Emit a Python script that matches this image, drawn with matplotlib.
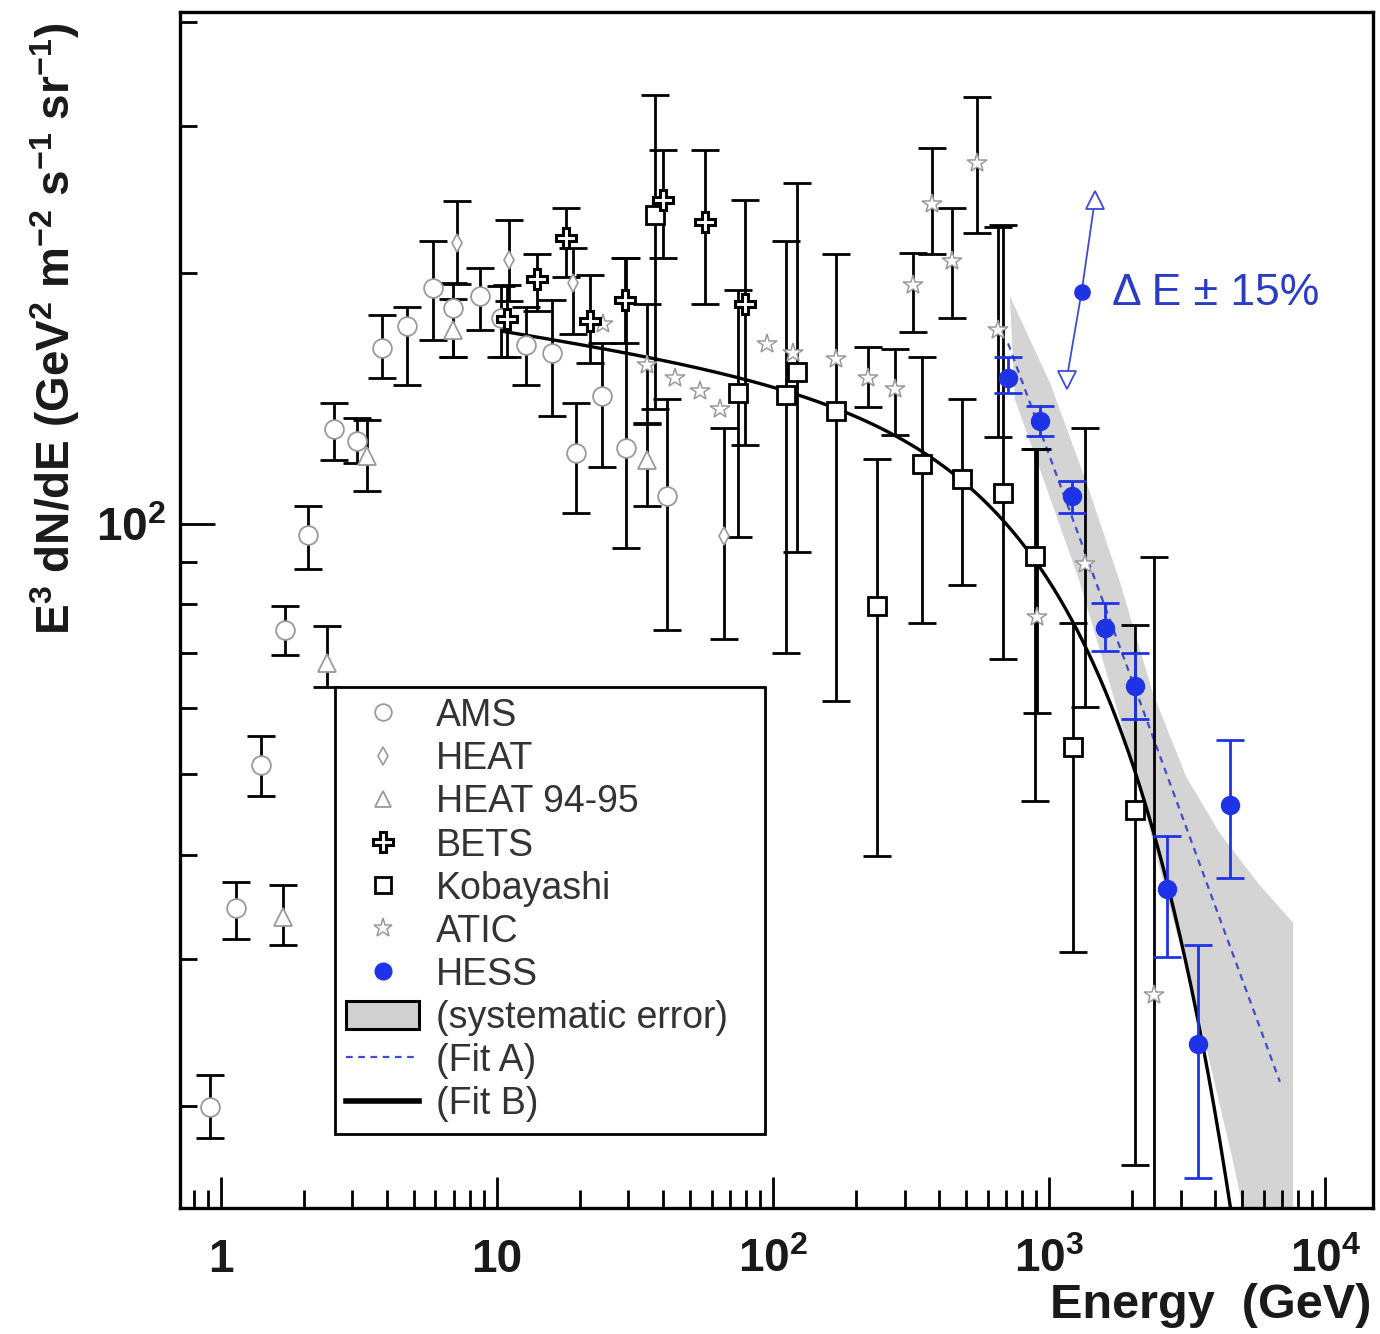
import numpy as np
import matplotlib
matplotlib.use("Agg")
import matplotlib.pyplot as plt
from matplotlib.lines import Line2D
from matplotlib.patches import Patch
from matplotlib.ticker import FixedLocator, FixedFormatter, NullFormatter

plt.rcParams['font.family'] = ['Liberation Sans', 'DejaVu Sans']
plt.rcParams['mathtext.fontset'] = 'custom'
plt.rcParams['mathtext.rm'] = 'Liberation Sans'
plt.rcParams['mathtext.it'] = 'Liberation Sans:italic'
plt.rcParams['mathtext.bf'] = 'Liberation Sans:bold'
plt.rcParams['mathtext.default'] = 'regular'

# ---------------- data: energy (GeV), E^3 dN/dE, lower and upper error ends ----------------
ams_e  = [0.916, 1.138, 1.40, 1.71, 2.08, 2.58, 3.11, 3.83, 4.72, 5.90, 6.96, 8.70, 10.4, 12.8, 15.8, 19.4, 24.0, 29.4, 41.3]
ams_v  = [19.95, 34.6, 51.3, 74.6, 97.0, 129.9, 125.5, 162.4, 172.5, 191.7, 181.4, 187.5, 176.5, 163.9, 160.2, 121.6, 142.1, 123.2, 107.8]
ams_lo = [18.3, 31.7, 47.1, 69.6, 88.1, 119.3, 118.2, 149.6, 146.8, 166.0, 158.6, 170.8, 158.6, 146.7, 134.5, 103.0, 117.0, 93.5, 74.6]
ams_hi = [21.8, 37.2, 55.6, 79.6, 104.9, 139.5, 133.9, 178.0, 182.0, 218.0, 194.4, 202.4, 192.6, 182.0, 185.5, 139.5, 164.8, 208.0, 140.9]

heat_e  = [7.2, 11.1, 18.95, 66.5]
heat_v  = [216.8, 207.0, 194.4, 96.6]
heat_lo = [194.0, 185.0, 168.9, 72.6]
heat_hi = [243.6, 231.5, 214.0, 130.2]

heat95_e  = [1.68, 2.42, 3.40, 6.96, 34.9]
heat95_v  = [33.7, 68.1, 120.4, 170.8, 119.3]
heat95_lo = [31.2, 63.7, 109.3, 158.6, 104.9]
heat95_hi = [36.8, 75.3, 133.2, 186.0, 132.0]

bets_e  = [10.9, 13.99, 17.8, 21.8, 29.1, 40.1, 56.8, 79.3]
bets_v  = [176.0, 196.7, 219.8, 175.0, 185.6, 244.2, 229.8, 183.5]
bets_lo = [158.6, 179.9, 197.7, 155.9, 164.8, 208.3, 183.5, 124.2]
bets_hi = [193.4, 210.5, 239.0, 198.6, 208.0, 280.3, 280.3, 244.2]

koba_e  = [37.4, 75.0, 112.0, 122.0, 170.0, 237.6, 345.6, 482.6, 682.6, 889.0, 1218.0, 2047.0]
koba_v  = [234.2, 143.3, 142.8, 151.8, 136.6, 79.7, 117.9, 113.0, 108.9, 91.5, 53.9, 45.3]
koba_lo = [137.4, 96.4, 69.9, 92.4, 61.2, 39.9, 76.0, 84.5, 68.8, 46.5, 30.6, 17.0]
koba_hi = [326.8, 190.6, 218.0, 256.3, 210.6, 119.4, 158.5, 141.1, 228.3, 123.0, 76.0, 75.5]

atic_e  = [24.3, 34.9, 44.2, 54.5, 64.4, 95.0, 118.6, 170.0, 221.6, 276.7, 322.0, 375.7, 443.7, 547.0, 654.7, 902.0, 1349.0, 2398.0]
atic_v  = [173.3, 155.1, 149.4, 144.1, 137.4, 164.4, 160.0, 157.6, 149.5, 144.9, 193.5, 241.6, 206.3, 270.4, 170.6, 77.3, 89.5, 27.2]
atic_lo = [173.3, 131.6, 149.4, 144.1, 137.4, 164.4, 160.0, 157.6, 138.1, 127.6, 169.6, 210.6, 176.6, 223.0, 126.9, 59.2, 60.2, 10.0]
atic_hi = [173.3, 183.5, 149.4, 144.1, 137.4, 164.4, 160.0, 157.6, 162.7, 161.8, 211.3, 281.8, 239.3, 325.0, 227.0, 123.0, 130.2, 91.1]

hess_e  = [711.6, 927.0, 1207.0, 1593.0, 2047.0, 2667.0, 3468.0, 4519.0]
hess_v  = [149.5, 132.6, 107.8, 75.0, 63.8, 36.4, 23.76, 45.9]
hess_lo = [143.4, 127.3, 103.0, 70.3, 58.3, 30.2, 16.4, 37.6]
hess_hi = [158.6, 138.2, 112.4, 80.3, 69.9, 42.2, 31.2, 55.0]

# systematic error band of the H.E.S.S. spectrum
band_up_e = [721.5, 1007, 1368, 1808, 2378, 3148, 4157, 5803, 7657, 7657]
band_up_v = [187.5, 147.6, 112.0, 85.0, 62.6, 49.6, 42.5, 36.8, 33.2, 10.0]
band_lo_e = [5080, 5034, 4634, 3516, 2583, 2014, 1294, 1066, 874, 753]
band_lo_v = [10.0, 15.1, 17.2, 25.4, 37.3, 51.6, 85.0, 102.0, 122.7, 140.9]

# energy-scale uncertainty marker (-15%, nominal, +15%)
de_e = [1158, 1313, 1466]
de_v = [148.8, 189.8, 244.5]

# fit A: pure power law;  fit B: power law with exponential cut-off
fitA_norm, fitA_index, fitA_range = 121.0, 3.9, (711.0, 6855.0)
fitB_norm, fitB_index, fitB_cut, fitB_range = 136.1, 3.05, 2140.0, (10.5, 6000.0)

x_ticks = [1, 10, 100, 1000, 10000]
x_ticklabels = ['1', '10', r'$10^{2}$', r'$10^{3}$', r'$10^{4}$']
y_ticks = [100]
y_ticklabels = [r'$10^{2}$']

# ---------------- figure ----------------
fig = plt.figure(figsize=(13.8, 13.34), dpi=100)
ax = fig.add_axes([0.1304, 0.0945, 0.8645, 0.8966])
ax.set_xscale('log')
ax.set_yscale('log')
ax.set_xlim(0.713, 14900)
ax.set_ylim(15.1, 411)

GRAY = '#9a9a9a'
BLUE = '#1f33e6'
LINE_BLUE = '#3f4bd2'

# systematic band
ax.fill(band_up_e + band_lo_e, band_up_v + band_lo_v, color='#d4d4d4', lw=0, zorder=1)

# fits
eA = np.logspace(np.log10(fitA_range[0]), np.log10(fitA_range[1]), 200)
ax.plot(eA, fitA_norm * (eA / 1000.0) ** (3 - fitA_index), color=LINE_BLUE, lw=1.6,
        ls=(0, (3, 2.5)), zorder=2)
eB = np.logspace(np.log10(fitB_range[0]), np.log10(fitB_range[1]), 400)
ax.plot(eB, fitB_norm * (eB / 1000.0) ** (3 - fitB_index) * np.exp(-eB / fitB_cut),
        color='black', lw=2.4, zorder=2)


def series(e, v, lo, hi, ecolor, **mk):
    e, v, lo, hi = map(np.asarray, (e, v, lo, hi))
    m = hi > lo
    ax.errorbar(e[m], v[m], yerr=[v[m] - lo[m], hi[m] - v[m]], fmt='none', ecolor=ecolor,
                elinewidth=2.0, capsize=10, capthick=2.0, zorder=3)
    ax.plot(e, v, ls='none', zorder=4, **mk)


series(ams_e, ams_v, ams_lo, ams_hi, 'black',
       marker='o', ms=13.5, mfc='white', mec=GRAY, mew=1.3)
series(heat_e, heat_v, heat_lo, heat_hi, 'black',
       marker='d', ms=9, mfc='white', mec=GRAY, mew=1.2)
series(heat95_e, heat95_v, heat95_lo, heat95_hi, 'black',
       marker='^', ms=12.5, mfc='white', mec=GRAY, mew=1.3)
series(atic_e, atic_v, atic_lo, atic_hi, 'black',
       marker='*', ms=15, mfc='white', mec=GRAY, mew=1.1)
series(koba_e, koba_v, koba_lo, koba_hi, 'black',
       marker='s', ms=13.5, mfc='white', mec='black', mew=2.0)
series(bets_e, bets_v, bets_lo, bets_hi, 'black',
       marker='P', ms=15, mfc='white', mec='black', mew=2.2)
series(hess_e, hess_v, hess_lo, hess_hi, BLUE,
       marker='o', ms=13, mfc=BLUE, mec=BLUE, mew=1)

# energy-scale uncertainty indicator
ax.plot(de_e, de_v, color=LINE_BLUE, lw=1.3, zorder=5)
ax.plot(de_e[1], de_v[1], ls='none', marker='o', ms=11, color=BLUE, zorder=6)
ax.plot(de_e[2], de_v[2], ls='none', marker='^', ms=13, mfc='white', mec=LINE_BLUE, mew=1.3, zorder=6)
ax.plot(de_e[0], de_v[0], ls='none', marker='v', ms=13, mfc='white', mec=LINE_BLUE, mew=1.3, zorder=6)
ax.text(1690, 189, '\u0394 E \u00b1 15%', color='#2b3cc4', fontsize=32, ha='left', va='center', zorder=6)

# axes styling
for sp in ax.spines.values():
    sp.set_linewidth(2.4)
ax.xaxis.set_major_locator(FixedLocator(x_ticks))
ax.xaxis.set_major_formatter(FixedFormatter(x_ticklabels))
x_minor = [d * m for d in (0.1, 1, 10, 100, 1000) for m in range(2, 10)]
ax.xaxis.set_minor_locator(FixedLocator(x_minor))
ax.xaxis.set_minor_formatter(NullFormatter())
ax.yaxis.set_major_locator(FixedLocator(y_ticks))
ax.yaxis.set_major_formatter(FixedFormatter(y_ticklabels))
y_minor = [20, 30, 40, 50, 60, 70, 80, 90, 200, 300, 400]
ax.yaxis.set_minor_locator(FixedLocator(y_minor))
ax.yaxis.set_minor_formatter(NullFormatter())

ax.tick_params(axis='both', which='both', direction='in', top=False, right=False, width=2.0)
ax.tick_params(axis='x', which='major', length=22, pad=22, labelsize=33)
ax.tick_params(axis='x', which='minor', length=13)
ax.tick_params(axis='y', which='major', length=25, pad=10, labelsize=33)
ax.tick_params(axis='y', which='minor', length=12.5)
for lab in ax.get_xticklabels() + ax.get_yticklabels():
    lab.set_fontweight('bold')
    lab.set_color('#1a1a1a')

fig.text(0.9935, 0.0217, 'Energy  (GeV)', ha='right', va='center', fontsize=35,
         fontweight='bold', color='#1a1a1a')
fig.text(0.040, 0.7534,
         r'E$^{3}$ dN/dE (GeV$^{2}$ m$^{-2}$ s$^{-1}$ sr$^{-1}$)',
         rotation=90, ha='center', va='center', fontsize=33, fontweight='bold', color='#1a1a1a')

# legend
handles = [
    Line2D([], [], ls='none', marker='o', ms=12, mfc='white', mec=GRAY, mew=1.3),
    Line2D([], [], ls='none', marker='d', ms=9, mfc='white', mec=GRAY, mew=1.2),
    Line2D([], [], ls='none', marker='^', ms=12, mfc='white', mec=GRAY, mew=1.3),
    Line2D([], [], ls='none', marker='P', ms=14, mfc='white', mec='black', mew=2.2),
    Line2D([], [], ls='none', marker='s', ms=12, mfc='white', mec='black', mew=2.0),
    Line2D([], [], ls='none', marker='*', ms=14, mfc='white', mec=GRAY, mew=1.1),
    Line2D([], [], ls='none', marker='o', ms=12, mfc=BLUE, mec=BLUE),
    Patch(facecolor='#d0d0d0', edgecolor='black', lw=2.2),
    Line2D([], [], color=LINE_BLUE, lw=1.6, ls=(0, (3, 2.5))),
    Line2D([], [], color='black', lw=4),
]
labels = ['AMS', 'HEAT', 'HEAT 94-95', 'BETS', 'Kobayashi', 'ATIC', 'HESS',
          '(systematic error)', '(Fit A)', '(Fit B)']
leg = ax.legend(handles, labels, loc='upper left',
                bbox_to_anchor=(0.1299, 0.0, 0.3604, 0.4356), mode='expand',
                borderaxespad=0, fontsize=27, frameon=True, fancybox=False,
                edgecolor='black', framealpha=1, borderpad=0.3, labelspacing=0.19,
                handlelength=1.95, handleheight=0.8, handletextpad=0.45, labelcolor='#333333')
leg.get_frame().set_linewidth(2.0)
leg.set_zorder(10)

fig.savefig('out.png', dpi=100)
